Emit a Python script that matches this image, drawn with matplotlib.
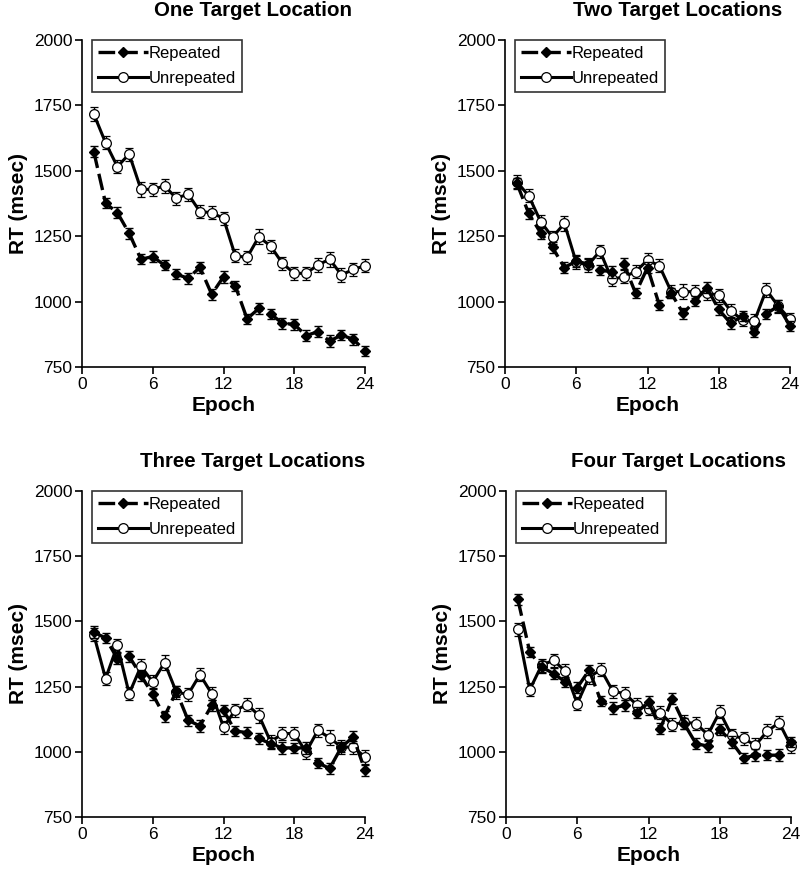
import matplotlib
matplotlib.use("Agg")
from matplotlib import pyplot as plt
from matplotlib.lines import Line2D

plt.rcParams['font.family'] = ['Liberation Sans', 'DejaVu Sans']

epochs = list(range(1, 25))

titles = ["One Target Location", "Two Target Locations",
          "Three Target Locations", "Four Target Locations"]

rep_one = [1573, 1376, 1340, 1261, 1162, 1172, 1139, 1105, 1089, 1131, 1028, 1095,
           1060, 934, 974, 953, 917, 913, 870, 885, 849, 872, 856, 812]
unrep_one = [1717, 1607, 1516, 1564, 1429, 1429, 1442, 1395, 1411, 1344, 1340, 1318,
             1175, 1169, 1248, 1212, 1146, 1108, 1108, 1140, 1162, 1102, 1123, 1137]

rep_two = [1452, 1337, 1263, 1207, 1130, 1155, 1143, 1121, 1113, 1145, 1032, 1130,
           987, 1032, 955, 1003, 1053, 970, 917, 945, 885, 953, 983, 907]
unrep_two = [1458, 1404, 1306, 1246, 1299, 1150, 1140, 1193, 1085, 1095, 1114, 1159,
             1137, 1038, 1038, 1038, 1032, 1025, 965, 930, 925, 1045, 983, 932]

rep_three = [1459, 1436, 1357, 1366, 1293, 1220, 1136, 1232, 1121, 1099, 1178, 1159,
             1079, 1074, 1051, 1031, 1015, 1015, 1015, 958, 936, 1018, 1057, 929]
unrep_three = [1449, 1281, 1408, 1223, 1328, 1268, 1342, 1229, 1220, 1296, 1223, 1095,
               1159, 1181, 1140, 1038, 1070, 1070, 999, 1082, 1054, 1018, 1018, 980]

rep_four = [1584, 1383, 1325, 1300, 1268, 1246, 1313, 1194, 1168, 1178, 1150, 1191,
            1089, 1204, 1108, 1031, 1022, 1086, 1038, 976, 987, 987, 987, 1038]
unrep_four = [1469, 1238, 1332, 1351, 1309, 1185, 1287, 1315, 1232, 1223, 1181, 1166,
              1150, 1104, 1114, 1108, 1066, 1153, 1063, 1051, 1025, 1079, 1112, 1022]

# standard errors
err_rep = [22, 20, 22, 20, 20, 22, 20, 20, 22, 22, 20, 22,
           20, 20, 22, 20, 22, 20, 22, 20, 22, 20, 22, 20]
err_unrep = [25, 25, 25, 25, 28, 25, 28, 25, 25, 25, 25, 25,
             25, 25, 28, 25, 25, 25, 25, 25, 28, 28, 25, 25]

rep_all = [rep_one, rep_two, rep_three, rep_four]
unrep_all = [unrep_one, unrep_two, unrep_three, unrep_four]

W, H = 800, 875
boxes = [(82, 40, 365, 367), (505, 40, 790, 367),
         (82, 491, 365, 817), (506, 491, 791, 817)]

dash = (0, (5, 1.8))

fig = plt.figure(figsize=(W / 100, H / 100), dpi=100)

for i in range(4):
    x0, y0, x1, y1 = boxes[i]
    ax = fig.add_axes([x0 / W, 1 - y1 / H, (x1 - x0) / W, (y1 - y0) / H])

    c1 = ax.errorbar(epochs, unrep_all[i], yerr=err_unrep, color='black', lw=2.2,
                     marker='o', ms=7, mfc='white', mec='black', mew=0.9,
                     ecolor='black', elinewidth=1, capsize=3, capthick=1,
                     zorder=2)
    c2 = ax.errorbar(epochs, rep_all[i], yerr=err_rep, color='black', lw=2.4,
                     ls=dash, marker='D', ms=5.5, mfc='black', mec='black',
                     ecolor='black', elinewidth=1, capsize=3, capthick=1,
                     zorder=3)
    for cont in (c1, c2):
        for art in cont.get_children():
            art.set_clip_on(False)

    ax.set_xlim(0, 24)
    ax.set_ylim(750, 2000)
    ax.set_xticks([0, 6, 12, 18, 24])
    ax.set_yticks([750, 1000, 1250, 1500, 1750, 2000])
    ax.spines['top'].set_visible(False)
    ax.spines['right'].set_visible(False)
    ax.spines['left'].set_linewidth(1.2)
    ax.spines['bottom'].set_linewidth(1.2)
    ax.tick_params(direction='out', length=5, width=1.2, labelsize=12.5, pad=2)
    ax.set_xlabel("Epoch", fontsize=15, fontweight='bold', labelpad=3)
    ax.set_ylabel("RT (msec)", fontsize=15, fontweight='bold', labelpad=4)
    ax.text(0.604, 1.073, titles[i], transform=ax.transAxes, ha='center',
            va='baseline', fontsize=14.8, fontweight='bold')

    handles = [Line2D([], [], color='black', lw=2.4, ls=dash, marker='D', ms=5.5),
               Line2D([], [], color='black', lw=2.2, marker='o', ms=7,
                      mfc='white', mew=0.9)]
    leg = ax.legend(handles, ["Repeated", "Unrepeated"], loc='upper left',
                    bbox_to_anchor=(0.035, 1.0), fontsize=12, frameon=True,
                    fancybox=False, edgecolor='black', borderpad=0.35,
                    handlelength=3.0, handletextpad=0.05, labelspacing=0.6,
                    borderaxespad=0.0)
    leg.get_frame().set_linewidth(1.2)

fig.savefig("out.png", dpi=100)
